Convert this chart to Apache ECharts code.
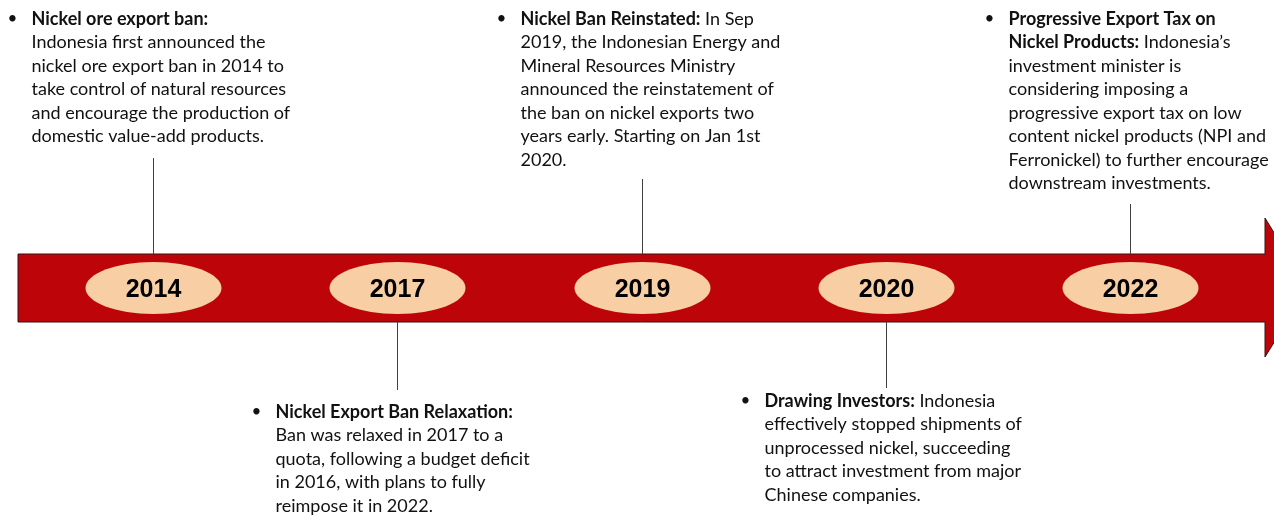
<!DOCTYPE html>
<html><head><meta charset="utf-8">
<script src="https://cdn.jsdelivr.net/npm/echarts@6/dist/echarts.min.js"></script>
<style>html,body{margin:0;padding:0;background:#fff;overflow:hidden}#c{width:1274px;height:515px}</style>
</head><body><div id="c"></div>
<script>
// ---- data ----
const years = ['2014', '2017', '2019', '2020', '2022'];
const titles = [
  'Nickel ore export ban:',
  'Nickel Export Ban Relaxation:',
  'Nickel Ban Reinstated:',
  'Drawing Investors:',
  'Progressive Export Tax on\nNickel Products:'
];
const bodies = [
  '\nIndonesia first announced the\nnickel ore export ban in 2014 to\ntake control of natural resources\nand encourage the production of\ndomestic value-add products.',
  '\nBan was relaxed in 2017 to a\nquota, following a budget deficit\nin 2016, with plans to fully\nreimpose it in 2022.',
  ' In Sep\n2019, the Indonesian Energy and\nMineral Resources Ministry\nannounced the reinstatement of\nthe ban on nickel exports two\nyears early. Starting on Jan 1st\n2020.',
  ' Indonesia\neffectively stopped shipments of\nunprocessed nickel, succeeding\nto attract investment from major\nChinese companies.',
  ' Indonesia\u2019s\ninvestment minister is\nconsidering imposing a\nprogressive export tax on low\ncontent nickel products (NPI and\nFerronickel) to further encourage\ndownstream investments.'
];
const sides = ['top', 'bottom', 'top', 'bottom', 'top'];

// ---- layout (pixels) ----
const LAYOUT = {
  barTop: 254, barBottom: 322, barLeft: 18, headX: 1265, headTop: 218, headBottom: 357, tipX: 1308,
  ellipseRx: 68, ellipseRy: 26,
  textTop: [7, 400, 7, 389, 7],
  stemEnd: [158, 390, 179, 388, 204],
  lineHeight: 23.5
};
const BODY_FONT = 'Lato';
const BODY_SIZE = 18;

const chart = echarts.init(document.getElementById('c'), null, {renderer: 'canvas'});
const midY = (LAYOUT.barTop + LAYOUT.barBottom) / 2;

chart.setOption({
  animation: false,
  grid: {left: 31, width: 1221, top: 0, bottom: 0},
  xAxis: {type: 'category', data: years, show: false, boundaryGap: true},
  yAxis: {type: 'value', min: 0, max: 515, inverse: true, show: false},
  graphic: [{
    type: 'polygon', z: 0,
    shape: {points: [
      [LAYOUT.barLeft, LAYOUT.barTop], [LAYOUT.headX, LAYOUT.barTop], [LAYOUT.headX, LAYOUT.headTop],
      [LAYOUT.tipX, midY], [LAYOUT.headX, LAYOUT.headBottom], [LAYOUT.headX, LAYOUT.barBottom],
      [LAYOUT.barLeft, LAYOUT.barBottom]
    ]},
    style: {fill: '#BD0509', stroke: '#3a1010', lineWidth: 1}
  }],
  series: [{
    type: 'custom', z: 5,
    coordinateSystem: 'cartesian2d',
    data: years.map((y, i) => [i, 0]),
    encode: {x: 0, y: 1},
    renderItem: function (params, api) {
      const i = params.dataIndex;
      const cx = Math.round(api.coord([i, 0])[0]) + 0.5;
      const top = LAYOUT.textTop[i];
      const up = sides[i] === 'top';
      const stem = up
        ? {x1: cx, y1: LAYOUT.stemEnd[i], x2: cx, y2: LAYOUT.barTop}
        : {x1: cx, y1: LAYOUT.barBottom, x2: cx, y2: LAYOUT.stemEnd[i]};
      return {
        type: 'group',
        children: [
          {type: 'line', shape: stem, style: {stroke: '#3f3f3f', lineWidth: 1}},
          {type: 'ellipse', shape: {cx: cx, cy: midY, rx: LAYOUT.ellipseRx, ry: LAYOUT.ellipseRy},
            style: {fill: '#F8CFA5'}},
          {type: 'text', style: {text: years[i], x: cx, y: midY + 2, align: 'center', verticalAlign: 'middle',
            fontFamily: 'Liberation Sans', fontWeight: 'bold', fontSize: 25, fill: '#000'}},
          {type: 'text', style: {text: '\u2022', x: cx - 141, y: top, align: 'center', verticalAlign: 'top',
            fontFamily: BODY_FONT, fontSize: BODY_SIZE - 1, lineHeight: LAYOUT.lineHeight, fill: '#111'}},
          {type: 'text', style: {
            text: '{b|' + titles[i] + '}' + bodies[i],
            x: cx - 122, y: top, align: 'left', verticalAlign: 'top',
            fontFamily: BODY_FONT, fontSize: BODY_SIZE, lineHeight: LAYOUT.lineHeight, fill: '#111',
            rich: {b: {fontFamily: BODY_FONT, fontSize: BODY_SIZE, fontWeight: 'bold', lineHeight: LAYOUT.lineHeight, fill: '#111'}}
          }}
        ]
      };
    }
  }]
});
</script></body></html>
